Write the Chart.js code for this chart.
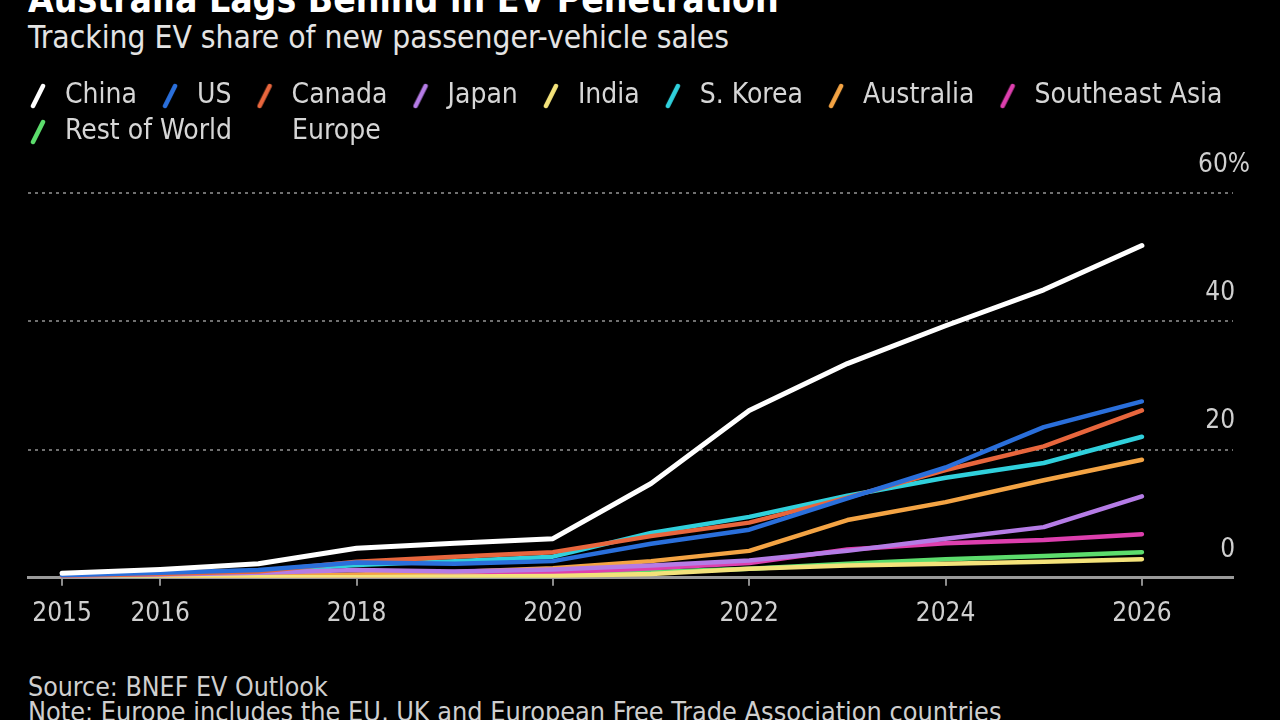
<!DOCTYPE html>
<html>
<head>
<meta charset="utf-8">
<script src="https://cdn.jsdelivr.net/npm/chart.js@4.4.1/dist/chart.umd.min.js"></script>
<style>
  body { margin:0; background:#000; width:1280px; height:720px; overflow:hidden; position:relative;
         font-family:'DejaVu Sans Condensed','DejaVu Sans',sans-serif; }
  .txt { position:absolute; left:28px; white-space:nowrap; line-height:1; }
  #title { top:-19px; font-size:37px; font-weight:bold; color:#fff; }
  #sub { top:22px; font-size:31.5px; color:#e4e4e4; }
  #src { top:674px; font-size:26.5px; color:#cfcfcf; }
  #note { top:699px; font-size:26.8px; color:#cfcfcf; }
  #wrap { position:absolute; left:0; top:70px; width:1280px; height:580px; }
</style>
</head>
<body>
<div class="txt" id="title">Australia Lags Behind in EV Penetration</div>
<div class="txt" id="sub">Tracking EV share of new passenger-vehicle sales</div>
<div id="wrap"><canvas id="myChart"></canvas></div>
<div class="txt" id="src">Source: BNEF EV Outlook</div>
<div class="txt" id="note">Note: Europe includes the EU, UK and European Free Trade Association countries</div>
<script>
// values, % of new passenger-vehicle sales
var years = [2015, 2016, 2017, 2018, 2019, 2020, 2021, 2022, 2023, 2024, 2025, 2026];
var xTickYears = [2015, 2016, 2018, 2020, 2022, 2024, 2026];
var yTickValues = [0, 20, 40, 60];

var china        = [0.7, 1.3, 2.2, 4.6, 5.4, 6.1, 14.7, 26.1, 33.4, 39.3, 44.9, 51.8];
var us           = [0.4, 0.8, 1.2, 2.4, 2.2, 2.6, 5.3, 7.5, 12.4, 17.2, 23.5, 27.5];
var canada       = [0.3, 0.6, 1.0, 2.5, 3.3, 4.0, 6.5, 8.6, 12.5, 16.8, 20.5, 26.1];
var japan        = [0.3, 0.5, 0.8, 1.2, 1.0, 1.3, 1.9, 2.7, 4.2, 6.1, 7.9, 12.7];
var india        = [0.0, 0.0, 0.1, 0.1, 0.2, 0.3, 0.6, 1.4, 1.9, 2.2, 2.5, 2.9];
var sKorea       = [0.2, 0.4, 1.0, 2.0, 2.6, 3.3, 7.0, 9.5, 12.8, 15.6, 17.9, 22.0];
var australia    = [0.1, 0.2, 0.3, 0.5, 0.9, 1.5, 2.6, 4.2, 9.0, 11.8, 15.2, 18.4];
var southeastAsia= [0.1, 0.1, 0.2, 0.3, 0.4, 0.8, 1.5, 2.3, 4.4, 5.4, 5.9, 6.8];
var restOfWorld  = [0.1, 0.1, 0.2, 0.3, 0.4, 0.5, 0.9, 1.4, 2.2, 2.9, 3.4, 4.0];
var europe       = []; // listed in the legend, no line drawn in the picture

var seriesNames  = ['China', 'US', 'Canada', 'Japan', 'India', 'S. Korea', 'Australia', 'Southeast Asia', 'Rest of World', 'Europe'];
var seriesValues = [china, us, canada, japan, india, sKorea, australia, southeastAsia, restOfWorld, europe];
var seriesColors = ['#ffffff', '#2a6fdb', '#e8663d', '#b57ce6', '#f3e27a', '#30d0dc', '#f4a444', '#dd3fae', '#5cdc6c', null];

Chart.defaults.font.family = "'DejaVu Sans Condensed','DejaVu Sans',sans-serif";

// little slanted stroke used as legend marker
function slashIcon(color) {
  var c = document.createElement('canvas');
  c.width = 27; c.height = 26;
  if (color) {
    var g = c.getContext('2d');
    g.strokeStyle = color; g.lineWidth = 4.5; g.lineCap = 'round';
    g.beginPath(); g.moveTo(3, 23); g.lineTo(13, 3); g.stroke();
  }
  return c;
}
var icons = seriesColors.map(slashIcon);

var datasets = seriesNames.map(function(name, i) {
  return {
    label: name,
    data: seriesValues[i].map(function(v, j) { return {x: years[j], y: v}; }),
    borderColor: seriesColors[i] || 'transparent',
    borderWidth: i === 0 ? 5 : 4.5,
    pointRadius: 0,
    tension: 0,
    borderJoinStyle: 'round',
    borderCapStyle: 'round',
    fill: false
  };
});

// more room between the legend and the plot
var legendFit = {
  id: 'legendFit',
  beforeUpdate: function(chart) {
    var lg = chart.legend;
    if (!lg || lg._patched) return;
    var orig = lg.fit;
    lg.fit = function() {
      orig.call(this);
      this.height += 37;
    };
    lg._patched = true;
  }
};

var chart = new Chart(document.getElementById('myChart').getContext('2d'), {
  type: 'line',
  data: { datasets: datasets },
  plugins: [legendFit],
  options: {
    responsive: true,
    maintainAspectRatio: false,
    animation: false,
    events: [],
    layout: { padding: { left: 28, right: 10, top: 4, bottom: 7 } },
    plugins: {
      tooltip: { enabled: false },
      legend: {
        position: 'top',
        align: 'start',
        labels: {
          usePointStyle: true,
          boxWidth: 15,
          pointStyleWidth: 15,
          padding: 8,
          color: '#d6d6d6',
          font: { size: 28 },
          generateLabels: function(ch) {
            return ch.data.datasets.map(function(ds, i) {
              return {
                text: ds.label + '\u2002 \u200A',
                fontColor: '#d6d6d6',
                pointStyle: icons[i],
                fillStyle: 'transparent',
                strokeStyle: 'transparent',
                lineWidth: 0,
                hidden: false,
                datasetIndex: i
              };
            });
          }
        }
      }
    },
    scales: {
      x: {
        type: 'linear',
        min: 2014.653,
        max: 2026.928,
        afterBuildTicks: function(s) { s.ticks = xTickYears.map(function(v) { return {value: v}; }); },
        grid: { display: true, drawOnChartArea: false, drawTicks: true, tickLength: 8, color: '#8c8c8c', lineWidth: 2 },
        border: { display: true, color: '#9a9a9a', width: 3 },
        ticks: {
          autoSkip: false, maxRotation: 0, padding: 13,
          color: '#cfcfcf', font: { size: 26 },
          callback: function(v) { return String(v); }
        }
      },
      y: {
        position: 'right',
        min: 0,
        max: 60,
        afterBuildTicks: function(s) { s.ticks = yTickValues.map(function(v) { return {value: v}; }); },
        afterFit: function(s) { s.width = 37; },
        grid: {
          drawTicks: false,
          lineWidth: 2,
          color: function(ctx) { return ctx.tick && ctx.tick.value === 0 ? 'transparent' : '#707070'; }
        },
        border: { display: false, dash: [3, 4] },
        ticks: {
          mirror: true,
          crossAlign: 'near',
          padding: 17,
          labelOffset: -28,
          color: '#cfcfcf',
          font: { size: 26 },
          callback: function(v) { return v === 60 ? '60%' : String(v) + '\u2007'; }
        }
      }
    }
  }
});
</script>
</body>
</html>
